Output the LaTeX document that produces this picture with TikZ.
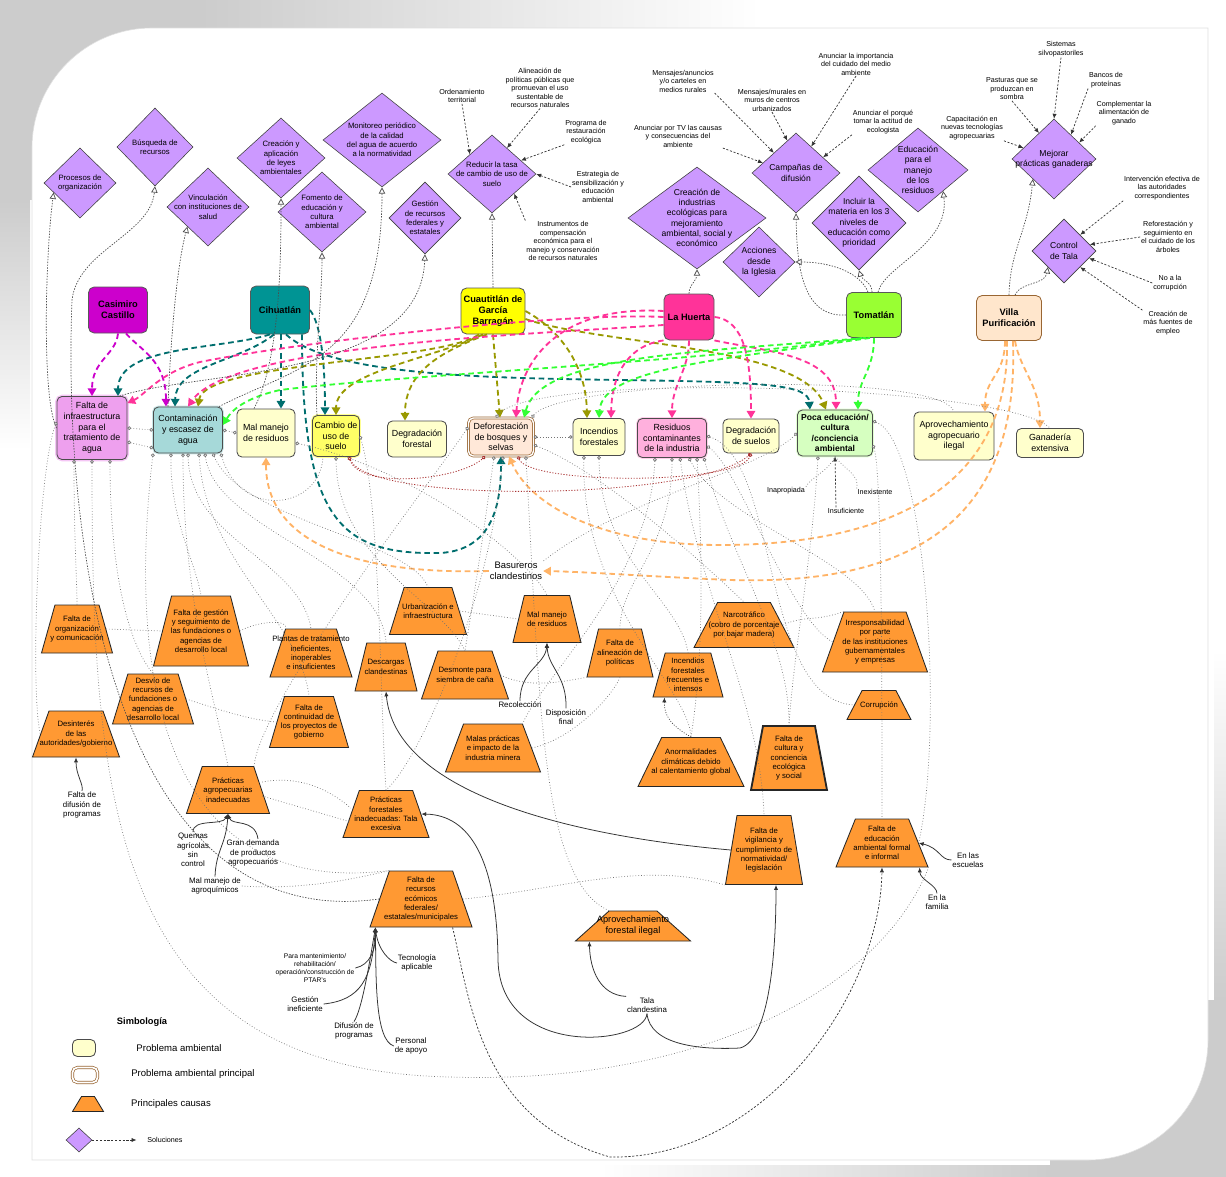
\documentclass[tikz,border=0pt]{standalone}
\usepackage{fontspec}
\setmainfont{Liberation Sans}
\usetikzlibrary{positioning,calc,shapes.geometric,arrows.meta}

\definecolor{lila}{HTML}{CC99FF}
\definecolor{naranja}{HTML}{FF9933}
\definecolor{crema}{HTML}{FFFFCC}
\definecolor{colCasimiro}{HTML}{CC00CC}
\definecolor{colCihua}{HTML}{009494}
\definecolor{colCihuaF}{HTML}{006E6E}
\definecolor{colCuauti}{HTML}{FFFF00}
\definecolor{colCuautiF}{HTML}{999900}
\definecolor{colHuerta}{HTML}{FF3399}
\definecolor{colToma}{HTML}{99FF33}
\definecolor{colTomaF}{HTML}{33FF33}
\definecolor{colVilla}{HTML}{FFE6CC}
\definecolor{colVillaB}{HTML}{996633}
\definecolor{colVillaF}{HTML}{FFB366}
\definecolor{colInfra}{HTML}{EEA0EE}
\definecolor{colContam}{HTML}{A6D9D9}
\definecolor{colCambio}{HTML}{FFFF66}
\definecolor{colDefor}{HTML}{FFE8D8}
\definecolor{colIndus}{HTML}{FFB0DD}
\definecolor{colEduca}{HTML}{D6FFC0}
\definecolor{rojizo}{HTML}{AA3333}

\tikzset{
  sol/.style={diamond, draw=black!75, fill=lila, inner sep=0pt},
  soltxt/.style={align=center, font=\fontsize{5.5}{6.6}\selectfont, inner sep=0pt},
  solbig/.style={align=center, font=\fontsize{6.1}{7.3}\selectfont, inner sep=0pt},
  mun/.style={rectangle, rounded corners=4pt, draw=black!65, line width=0.6pt, align=center,
    font=\bfseries\fontsize{6.6}{7.8}\selectfont, inner sep=1pt},
  prob/.style={rectangle, rounded corners=3.5pt, draw=black!70, line width=0.6pt, fill=crema,
    align=center, font=\fontsize{6.3}{7.6}\selectfont, inner sep=0.5pt},
  causa/.style={trapezium, trapezium stretches=true, trapezium angle=73, draw=black!85,
    line width=0.6pt, fill=naranja, inner sep=1pt},
  causatxt/.style={align=center, font=\fontsize{5.5}{6.6}\selectfont, inner sep=0pt},
  lbl/.style={align=center, font=\fontsize{5.1}{6}\selectfont, inner sep=0.5pt},
  lblmed/.style={align=center, font=\fontsize{5.6}{6.7}\selectfont, inner sep=0.5pt},
  muni/.style={dash pattern=on 4pt off 2.6pt, line width=1.3pt, -{Triangle[length=5.5pt, width=6pt]}},
  propuesta/.style={black!70, line width=0.5pt, dash pattern=on 1pt off 1pt,
    -{Triangle[open, fill=white, length=4.5pt, width=4.5pt]}},
  idea/.style={black!80, line width=0.5pt, dash pattern=on 1.5pt off 1.2pt, -{Latex[length=3.5pt, width=3pt]}},
  causal/.style={black!55, line width=0.5pt, dash pattern=on 0.5pt off 1.5pt,
    {Circle[fill=white, length=2.6pt, width=2.6pt]}-},
  par/.style={black!55, line width=0.5pt, dash pattern=on 0.5pt off 1.5pt,
    {Circle[fill=white, length=2.6pt, width=2.6pt]}-{Circle[fill=white, length=2.6pt, width=2.6pt]}},
  enlace/.style={black!55, line width=0.5pt, dash pattern=on 0.5pt off 1.5pt},
  rojo/.style={rojizo, line width=0.6pt, dash pattern=on 0.8pt off 1.2pt,
    {Circle[fill=white, length=2.6pt, width=2.6pt]}-{Circle[fill=white, length=2.6pt, width=2.6pt]}},
  nexo/.style={black!80, line width=0.55pt, -{Latex[length=3.5pt, width=3pt]}},
}

\begin{document}
\begin{tikzpicture}[x=0.025cm, y=-0.025cm]
  % one unit is one pixel of the sketch
  \def\px{0.025cm}
  \useasboundingbox (0,0) rectangle (1226,1177);

  % page and its shadow
  \fill[gray!40] (0,0) rectangle (200,200);
  \shade[left color=gray!40, right color=white] (200,0) rectangle (760,28);
  \shade[top color=gray!40, bottom color=white] (0,200) rectangle (30,450);
  \fill[gray!40] (1050,1000) rectangle (1226,1177);
  \shade[left color=white, right color=gray!40] (600,1165) rectangle (1050,1177);
  \shade[top color=white, bottom color=gray!40] (1214,650) rectangle (1226,1000);
  \filldraw[fill=white, draw=gray!25] (32,1160) [rounded corners=3cm] -- (32,28) -- (600,28)
    [sharp corners] -- (1208,28) -- (1208,600) [rounded corners=3cm] -- (1208,1160) -- (600,1160)
    [sharp corners] -- cycle;

  % solutions
  \node[sol, minimum width=72*\px, minimum height=70*\px, label={[soltxt]center:{Procesos de\\organización}}] (procesos) at (80,183) {};
  \node[sol, minimum width=76*\px, minimum height=78*\px, label={[soltxt]center:{Búsqueda de\\recursos}}] (busqueda) at (155,147) {};
  \node[sol, minimum width=82*\px, minimum height=78*\px, label={[soltxt]center:{Vinculación\\con instituciones de\\salud}}] (vinculacion) at (208,207) {};
  \node[sol, minimum width=88*\px, minimum height=80*\px, label={[soltxt]center:{Creación y\\aplicación\\de leyes\\ambientales}}] (leyes) at (281,158) {};
  \node[sol, minimum width=88*\px, minimum height=80*\px, label={[soltxt]center:{Fomento de\\educación y\\cultura\\ambiental}}] (fomento) at (322,212) {};
  \node[sol, minimum width=118*\px, minimum height=94*\px, label={[soltxt]center:{Monitoreo periódico\\de la calidad\\del agua de acuerdo\\a la normatividad}}] (monitoreo) at (382,140) {};
  \node[sol, minimum width=72*\px, minimum height=72*\px, label={[soltxt]center:{Gestión\\de recursos\\federales y\\estatales}}] (gestion) at (425,218) {};
  \node[sol, minimum width=88*\px, minimum height=78*\px, label={[soltxt]center:{Reducir la tasa\\de cambio de uso de\\suelo}}] (reducir) at (492,174) {};
  \node[sol, minimum width=138*\px, minimum height=102*\px, label={[solbig]center:{Creación de\\industrias\\ecológicas para\\mejoramiento\\ambiental, social y\\económico}}] (industrias) at (697,218) {};
  \node[sol, minimum width=72*\px, minimum height=70*\px, label={[solbig]center:{Acciones\\desde\\la Iglesia}}] (iglesia) at (759,262) {};
  \node[sol, minimum width=88*\px, minimum height=80*\px, label={[solbig]center:{Campañas de\\difusión}}] (campanas) at (796,173) {};
  \node[sol, minimum width=100*\px, minimum height=84*\px, label={[solbig]center:{Educación\\para el\\manejo\\de los\\residuos}}] (edures) at (918,170) {};
  \node[sol, minimum width=94*\px, minimum height=94*\px, label={[solbig]center:{Incluir la\\materia en los 3\\niveles de\\educación como\\prioridad}}] (incluir) at (859,223) {};
  \node[sol, minimum width=84*\px, minimum height=80*\px, label={[solbig]center:{Mejorar\\prácticas ganaderas}}] (mejorar) at (1054,159) {};
  \node[sol, minimum width=64*\px, minimum height=64*\px, label={[solbig]center:{Control\\de Tala}}] (control) at (1064,251) {};

  % municipalities
  \node[mun, fill=colCasimiro, minimum width=59*\px, minimum height=46*\px] (casimiro) at (118,310) {Casimiro\\Castillo};
  \node[mun, fill=colCihua, minimum width=59*\px, minimum height=48*\px] (cihuatlan) at (280,310) {Cihuatlán};
  \node[mun, fill=colCuauti, minimum width=64*\px, minimum height=46*\px] (cuautitlan) at (493,311) {Cuautitlán de\\García\\Barragán};
  \node[mun, fill=colHuerta, minimum width=50*\px, minimum height=46*\px] (huerta) at (689,317) {La Huerta};
  \node[mun, fill=colToma, minimum width=55*\px, minimum height=45*\px] (tomatlan) at (874,315) {Tomatlán};
  \node[mun, fill=colVilla, draw=colVillaB, minimum width=65*\px, minimum height=45*\px] (villa) at (1009,318) {Villa\\Purificación};

  % environmental problems
  \node[prob, fill=colInfra, preaction={draw=colInfra!60, line width=2.5pt}, minimum width=70*\px, minimum height=63*\px] (infra) at (92,428) {Falta de\\infraestructura\\para el\\tratamiento de\\agua};
  \node[prob, fill=colContam, preaction={draw=colContam!60, line width=2pt}, minimum width=69*\px, minimum height=46*\px] (contam) at (188,430) {Contaminación\\y escasez de\\agua};
  \node[prob, minimum width=58*\px, minimum height=48*\px] (malres) at (266,433) {Mal manejo\\de residuos};
  \node[prob, fill=colCambio, preaction={draw=colCambio!70, line width=2pt}, minimum width=47*\px, minimum height=41*\px] (cambio) at (336,436) {Cambio de\\uso de\\suelo};
  \node[prob, minimum width=59*\px, minimum height=36*\px] (degfor) at (417,439) {Degradación\\forestal};
  \node[prob, fill=colDefor, draw=colVillaB, double=white, double distance=1pt, line width=0.5pt, minimum width=65*\px, minimum height=38*\px] (defor) at (501,437) {Deforestación\\de bosques y\\selvas};
  \node[prob, minimum width=52*\px, minimum height=37*\px] (incendios) at (599,437) {Incendios\\forestales};
  \node[prob, fill=colIndus, preaction={draw=colIndus!60, line width=2pt}, minimum width=69*\px, minimum height=39*\px] (industria) at (672,438) {Residuos\\contaminantes\\de la industria};
  \node[prob, minimum width=56*\px, minimum height=34*\px] (degsue) at (751,436) {Degradación\\de suelos};
  \node[prob, fill=colEduca, preaction={draw=colEduca!70, line width=2pt}, font=\bfseries\fontsize{6.1}{7.4}\selectfont, minimum width=75*\px, minimum height=46*\px] (pocaedu) at (835,433) {Poca educación/\\cultura\\/conciencia\\ambiental};
  \node[prob, minimum width=80*\px, minimum height=48*\px] (agropil) at (954,436) {Aprovechamiento\\agropecuario\\ilegal};
  \node[prob, minimum width=67*\px, minimum height=29*\px] (ganaderia) at (1050,443) {Ganadería\\extensiva};

  % main causes
  \node[causa, minimum width=71*\px, minimum height=48*\px, label={[causatxt]center:{Falta de\\organización\\y comunicación}}] (organiz) at (77,629) {};
  \node[causa, minimum width=95*\px, minimum height=70*\px, label={[causatxt]center:{Falta de gestión\\y seguimiento de\\las fundaciones o\\agencias de\\desarrollo local}}] (gestfund) at (201,631) {};
  \node[causa, minimum width=82*\px, minimum height=48*\px, label={[causatxt]center:{Plantas de tratamiento\\ineficientes,\\inoperables\\e insuficientes}}] (plantas) at (311,653) {};
  \node[causa, minimum width=81*\px, minimum height=50*\px, label={[causatxt]center:{Desvío de\\recursos de\\fundaciones o\\agencias de\\desarrollo local}}] (desvio) at (153,699) {};
  \node[causa, minimum width=87*\px, minimum height=46*\px, label={[causatxt]center:{Desinterés\\de las\\autoridades/gobierno}}] (desinteres) at (76,734) {};
  \node[causa, minimum width=79*\px, minimum height=51*\px, label={[causatxt]center:{Falta de\\continuidad de\\los proyectos de\\gobierno}}] (continuidad) at (309,722) {};
  \node[causa, minimum width=62*\px, minimum height=48*\px, label={[causatxt]center:{Descargas\\clandestinas}}] (descargas) at (386,667) {};
  \node[causa, minimum width=83*\px, minimum height=47*\px, label={[causatxt]center:{Prácticas\\agropecuarias\\inadecuadas}}] (practagro) at (228,790) {};
  \node[causa, minimum width=86*\px, minimum height=47*\px, label={[causatxt]center:{Prácticas\\forestales\\inadecuadas: Tala\\excesiva}}] (practfor) at (386,814) {};
  \node[causa, minimum width=77*\px, minimum height=47*\px, label={[causatxt]center:{Urbanización e\\infraestructura}}] (urbaniz) at (428,611) {};
  \node[causa, minimum width=68*\px, minimum height=47*\px, trapezium angle=76, label={[causatxt]center:{Mal manejo\\de residuos}}] (manres) at (547,619) {};
  \node[causa, minimum width=87*\px, minimum height=48*\px, label={[causatxt]center:{Desmonte para\\siembra de caña}}] (desmonte) at (465,675) {};
  \node[causa, minimum width=66*\px, minimum height=48*\px, trapezium angle=75, label={[causatxt]center:{Falta de\\alineación de\\políticas}}] (alineacion) at (620,653) {};
  \node[causa, minimum width=100*\px, minimum height=45*\px, trapezium angle=66, label={[causatxt]center:{Narcotráfico\\(cobro de porcentaje\\por bajar madera)}}] (narco) at (744,625) {};
  \node[causa, minimum width=70*\px, minimum height=44*\px, trapezium angle=75, label={[causatxt]center:{Incendios\\forestales\\frecuentes e\\intensos}}] (incfrec) at (688,675) {};
  \node[causa, minimum width=95*\px, minimum height=48*\px, label={[causatxt]center:{Malas prácticas\\e impacto de la\\industria minera}}] (mineria) at (493,748) {};
  \node[causa, minimum width=106*\px, minimum height=49*\px, trapezium angle=68, label={[causatxt]center:{Anormalidades\\climáticas debido\\al calentamiento global}}] (clima) at (691,762) {};
  \node[causa, line width=1.3pt, minimum width=76*\px, minimum height=64*\px, trapezium angle=77, label={[causatxt]center:{Falta de\\cultura y\\conciencia\\ecológica\\y social}}] (cultura) at (789,758) {};
  \node[causa, minimum width=77*\px, minimum height=69*\px, trapezium angle=78, label={[causatxt]center:{Falta de\\vigilancia y\\cumplimiento de\\normatividad/\\legislación}}] (vigilancia) at (764,850) {};
  \node[causa, minimum width=105*\px, minimum height=60*\px, trapezium angle=71, label={[causatxt]center:{Irresponsabilidad\\por parte\\de las instituciones\\gubernamentales\\y empresas}}] (irresp) at (875,642) {};
  \node[causa, minimum width=64*\px, minimum height=29*\px, trapezium angle=66, label={[causatxt]center:{Corrupción}}] (corrupcion) at (879,705) {};
  \node[causa, minimum width=92*\px, minimum height=48*\px, trapezium angle=70, label={[causatxt]center:{Falta de\\educación\\ambiental formal\\e informal}}] (edformal) at (882,843) {};
  \node[causa, minimum width=102*\px, minimum height=56*\px, label={[causatxt]center:{Falta de\\recursos\\ecómicos\\federales/\\estatales/municipales}}] (recursos) at (421,899) {};
  \node[causa, minimum width=115*\px, minimum height=30*\px, trapezium angle=55, label={[align=center, font=\fontsize{6.6}{7.8}\selectfont]center:{Aprovechamiento\\forestal ilegal}}] (aprovfor) at (633,926) {};

  % free texts
  \node[lbl] (ordenam) at (462,96) {Ordenamiento\\territorial};
  \node[lbl] (alineac) at (540,88) {Alineación de\\políticas públicas que\\promuevan el uso\\sustentable de\\recursos naturales};
  \node[lbl] (programa) at (586,132) {Programa de\\restauración\\ecológica};
  \node[lbl] (estrateg) at (598,187) {Estrategia de\\sensibilización y\\educación\\ambiental};
  \node[lbl] (instrum) at (563,241) {Instrumentos de\\compensación\\económica para el\\manejo y conservación\\de recursos naturales};
  \node[lbl] (menrur) at (683,81) {Mensajes/anuncios\\y/o carteles en\\medios rurales};
  \node[lbl] (menurb) at (772,100) {Mensajes/murales en\\muros de centros\\urbanizados};
  \node[lbl] (anuntv) at (678,136) {Anunciar por TV las causas\\y consecuencias del\\ambiente};
  \node[lbl] (anunimp) at (856,64) {Anunciar la importancia\\del cuidado del medio\\ambiente};
  \node[lbl] (anunpor) at (883,122) {Anunciar el porqué\\tomar la actitud de\\ecologista};
  \node[lbl] (capacit) at (972,128) {Capacitación en\\nuevas tecnologías\\agropecuarias};
  \node[lbl] (pasturas) at (1012,89) {Pasturas que se\\produzcan en\\sombra};
  \node[lbl] (sistemas) at (1061,49) {Sistemas\\silvopastoriles};
  \node[lbl] (bancos) at (1106,80) {Bancos de\\proteínas};
  \node[lbl] (complem) at (1124,113) {Complementar la\\alimentación de\\ganado};
  \node[lbl] (interv) at (1162,188) {Intervención efectiva de\\las autoridades\\correspondientes};
  \node[lbl] (reforest) at (1168,237) {Reforestación y\\seguimiento en\\el cuidado de los\\árboles};
  \node[lbl] (nocorr) at (1170,283) {No a la\\corrupción};
  \node[lbl] (empleo) at (1168,323) {Creación de\\más fuentes de\\empleo};
  \node[lbl] (inapropiada) at (786,491) {Inapropiada};
  \node[lbl] (insuficiente) at (846,511) {Insuficiente};
  \node[lbl] (inexistente) at (875,492) {Inexistente};
  \node[align=center, font=\fontsize{6.7}{7.9}\selectfont, inner sep=0.5pt] (basureros) at (516,571) {Basureros\\clandestinos};
  \node[lblmed] (recoleccion) at (520,705) {Recolección};
  \node[lblmed] (disposicion) at (566,717) {Disposición\\final};
  \node[lblmed] (difusion) at (82,805) {Falta de\\difusión de\\programas};
  \node[lblmed] (quemas) at (193,850) {Quemas\\agrícolas\\sin\\control};
  \node[lblmed] (demanda) at (253,853) {Gran demanda\\de productos\\agropecuarios};
  \node[lblmed] (agroquim) at (215,886) {Mal manejo de\\agroquímicos};
  \node[align=center, font=\fontsize{4.8}{5.7}\selectfont, inner sep=0.5pt] (mantenim) at (315,968) {Para mantenimiento/\\rehabilitación/\\operación/construcción de\\PTAR's};
  \node[lblmed] (tecnologia) at (417,963) {Tecnología\\aplicable};
  \node[lblmed] (gestionef) at (305,1004) {Gestión\\ineficiente};
  \node[lblmed] (difprog) at (354,1031) {Difusión de\\programas};
  \node[lblmed] (personal) at (411,1046) {Personal\\de apoyo};
  \node[lblmed] (talacl) at (647,1005) {Tala\\clandestina};
  \node[lblmed] (escuelas) at (968,860) {En las\\escuelas};
  \node[lblmed] (familia) at (937,902) {En la\\familia};

  % municipality -> problem
  \draw[muni, colCasimiro] (casimiro.south) .. controls (116,355) and (92,360) .. (infra.north);
  \draw[muni, colCasimiro] ($(casimiro.south)+(8,0)$) .. controls (140,350) and (166,360) .. ($(contam.north)+(-22,0)$);
  \draw[muni, colCihuaF] ($(cihuatlan.south)+(-10,0)$) .. controls (220,350) and (118,345) .. ($(infra.north)+(26,0)$);
  \draw[muni, colCihuaF] ($(cihuatlan.south)+(-6,0)$) .. controls (240,362) and (176,365) .. ($(contam.north)+(-13,0)$);
  \draw[muni, colCihuaF] ($(cihuatlan.south)+(1,0)$) -- ($(malres.north)+(15,0)$);
  \draw[muni, colCihuaF] (cihuatlan.east) .. controls (322,325) and (325,370) .. ($(cambio.north)+(-11,0)$);
  \draw[muni, colCihuaF] ($(cihuatlan.south)+(22,0)$) .. controls (302,520) and (340,555) .. (440,553) .. controls (495,550) and (501,500) .. (defor.south);
  \draw[muni, colCihuaF] ($(cihuatlan.south)+(6,0)$) .. controls (330,375) and (480,378) .. (620,380) .. controls (770,382) and (808,385) .. ($(pocaedu.north)+(-25,0)$);
  \draw[muni, colCuautiF] ($(cuautitlan.south)+(-14,0)$) .. controls (440,362) and (205,362) .. ($(contam.north)+(10,0)$);
  \draw[muni, colCuautiF] ($(cuautitlan.south)+(-10,0)$) .. controls (430,360) and (336,372) .. (cambio.north);
  \draw[muni, colCuautiF] ($(cuautitlan.south)+(-6,0)$) .. controls (440,352) and (405,372) .. ($(degfor.north)+(-12,0)$);
  \draw[muni, colCuautiF] (cuautitlan.south) -- ($(defor.north)+(-1,0)$);
  \draw[muni, colCuautiF] (cuautitlan.east) .. controls (560,330) and (586,365) .. ($(incendios.north)+(-12,0)$);
  \draw[muni, colCuautiF] ($(cuautitlan.east)+(0,8)$) .. controls (600,345) and (800,345) .. ($(pocaedu.north)+(-9,0)$);
  \draw[muni, colHuerta] (huerta.west) .. controls (560,312) and (300,342) .. (200,362) .. controls (160,372) and (145,395) .. ($(infra.north east)+(0,7)$);
  \draw[muni, colHuerta] ($(huerta.west)+(0,8)$) .. controls (520,335) and (230,345) .. (contam.north);
  \draw[muni, colHuerta] ($(huerta.west)+(0,-6)$) .. controls (560,305) and (520,360) .. ($(defor.north)+(15,0)$);
  \draw[muni, colHuerta] (huerta.south west) .. controls (630,345) and (612,372) .. ($(incendios.north)+(12,0)$);
  \draw[muni, colHuerta] (huerta.south) .. controls (689,370) and (672,385) .. (industria.north);
  \draw[muni, colHuerta] (huerta.east) .. controls (745,320) and (751,360) .. (degsue.north);
  \draw[muni, colHuerta] (huerta.south east) .. controls (770,352) and (836,355) .. ($(pocaedu.north)+(1,0)$);
  \draw[muni, colTomaF] (tomatlan.south) .. controls (874,370) and (858,380) .. ($(pocaedu.north)+(23,0)$);
  \draw[muni, colTomaF] ($(tomatlan.south)+(-12,0)$) .. controls (700,362) and (400,375) .. (280,390) .. controls (245,398) and (232,410) .. ($(contam.east)+(0,-5)$);
  \draw[muni, colTomaF] ($(tomatlan.south)+(-8,0)$) .. controls (700,352) and (540,355) .. ($(defor.north)+(23,0)$);
  \draw[muni, colTomaF] ($(tomatlan.south)+(-4,0)$) .. controls (720,360) and (602,368) .. (incendios.north);
  \draw[muni, colVillaF] ($(villa.south)+(-4,0)$) .. controls (1005,375) and (985,378) .. ($(agropil.north)+(31,0)$);
  \draw[muni, colVillaF] ($(villa.south)+(6,0)$) .. controls (1020,370) and (1040,385) .. ($(ganaderia.north)+(-10,0)$);
  \draw[muni, colVillaF] ($(villa.south)+(-2,0)$) .. controls (1010,480) and (900,545) .. (720,545) .. controls (600,545) and (530,505) .. ($(defor.south)+(8,0)$);
  \draw[muni, colVillaF] ($(villa.south)+(4,0)$) .. controls (1020,530) and (900,585) .. (730,580) .. controls (640,576) and (590,572) .. (basureros.east);
  \draw[muni, colVillaF] (basureros.west) .. controls (350,575) and (266,540) .. (malres.south);

  % towards the solutions
  \draw[propuesta] (cuautitlan.north) -- (reducir.south);
  \draw[propuesta] (huerta.north) .. controls (689,285) and (697,280) .. (industrias.south);
  \draw[propuesta] ($(tomatlan.north)+(-2,0)$) .. controls (872,282) and (862,280) .. (incluir.south);
  \draw[propuesta] ($(tomatlan.north)+(4,0)$) .. controls (885,265) and (950,245) .. (edures.south east);
  \draw[propuesta] (tomatlan.west) .. controls (800,318) and (797,260) .. (campanas.south);
  \draw[propuesta] ($(tomatlan.north)+(-6,0)$) .. controls (860,272) and (830,262) .. (iglesia.east);
  \draw[propuesta] (villa.north) .. controls (1010,250) and (1028,230) .. (mejorar.south west);
  \draw[propuesta] ($(villa.north)+(6,0)$) .. controls (1020,282) and (1045,285) .. (control.south west);
  \draw[propuesta] (recursos.west) .. controls (120,935) and (62,560) .. (72,300) .. controls (78,250) and (150,235) .. (busqueda.south);
  \draw[propuesta] ($(contam.north)+(-20,0)$) .. controls (170,350) and (176,270) .. (vinculacion.south west);
  \draw[propuesta] ($(malres.north)+(-12,0)$) .. controls (280,360) and (281,260) .. (leyes.south);
  \draw[propuesta] ($(cambio.north)+(-19,0)$) .. controls (314,360) and (322,300) .. (fomento.south);
  \draw[propuesta] ($(contam.north east)+(-4,0)$) .. controls (300,365) and (382,360) .. (monitoreo.south);
  \draw[propuesta] ($(infra.north east)+(-8,0)$) .. controls (200,370) and (420,380) .. (gestion.south);
  \draw[propuesta] (infra.west) .. controls (42,400) and (45,260) .. (procesos.200);

  % proposals written round the solutions
  \draw[idea] (ordenam.south) -- (reducir.north west);
  \draw[idea] (alineac.south) -- (reducir.60);
  \draw[idea] (programa.south west) -- (reducir.25);
  \draw[idea] (estrateg.west) -- (reducir.east);
  \draw[idea] (instrum.north west) -- (reducir.south east);
  \draw[idea] (menrur.south east) -- (campanas.north west);
  \draw[idea] (menurb.south) -- (campanas.105);
  \draw[idea] (anunimp.south) -- (campanas.60);
  \draw[idea] (anuntv.south east) -- (campanas.163);
  \draw[idea] (anunpor.south west) -- (campanas.30);
  \draw[idea] (capacit.south east) -- (mejorar.160);
  \draw[idea] (pasturas.south) -- (mejorar.120);
  \draw[idea] (sistemas.south) -- (mejorar.north);
  \draw[idea] (bancos.south west) -- (mejorar.55);
  \draw[idea] (complem.south west) -- (mejorar.33);
  \draw[idea] (interv.south west) -- (control.north east);
  \draw[idea] (reforest.west) -- (control.14);
  \draw[idea] (nocorr.west) -- (control.-16);
  \draw[idea] (empleo.north west) -- (control.south east);
  \draw[idea] ($(insuficiente.north)+(-10,0)$) -- (pocaedu.south);
  \draw[enlace] (inapropiada.north east) .. controls (810,478) and (830,470) .. (pocaedu.south);
  \draw[enlace] (inexistente.north west) .. controls (860,475) and (845,470) .. (pocaedu.south);

  % problem -> cause links
  \draw[par] (infra.east) -- (contam.west);
  \draw[par] ($(infra.east)+(0,14)$) -- ($(contam.west)+(0,18)$);
  \draw[par] (contam.east) -- (malres.west);
  \draw[par] (defor.east) -- (incendios.west);
  \draw[causal] ($(infra.south)+(-18,0)$) .. controls (74,540) and (77,580) .. (organiz.north);
  \draw[causal] ($(infra.south)+(18,0)$) .. controls (110,560) and (125,640) .. (desvio.north);
  \draw[causal] ($(infra.west)+(0,-6)$) .. controls (38,470) and (30,690) .. (desinteres.west);
  \draw[causal] (infra.south) .. controls (92,800) and (110,1070) .. (450,1077) .. controls (700,1085) and (880,990) .. (edformal.bottom right corner);
  \draw[causal] ($(contam.south)+(-17,0)$) .. controls (170,520) and (195,560) .. (gestfund.north);
  \draw[causal] ($(contam.south)+(-5,0)$) .. controls (183,600) and (215,700) .. (practagro.north);
  \draw[causal] (contam.south) .. controls (190,540) and (300,560) .. (plantas.north);
  \draw[causal] ($(contam.south)+(11,0)$) .. controls (205,560) and (300,620) .. (continuidad.north);
  \draw[causal] ($(contam.south)+(17,0)$) .. controls (215,530) and (380,560) .. (descargas.north);
  \draw[causal] ($(contam.south)+(25,0)$) .. controls (240,520) and (410,540) .. (urbaniz.north);
  \draw[causal] (contam.south west) .. controls (130,650) and (150,900) .. (recursos.top left corner);
  \draw[causal] ($(contam.south east)+(-2,0)$) .. controls (240,520) and (320,510) .. ($(cambio.south)+(-13,0)$);
  \draw[causal] ($(malres.east)+(0,10)$) .. controls (420,470) and (530,560) .. (manres.north);
  \draw[causal] (cambio.south) .. controls (337,560) and (440,600) .. (desmonte.north);
  \draw[causal] (cambio.east) .. controls (380,500) and (380,700) .. (practfor.north);
  \draw[rojo] ($(cambio.south)+(13,0)$) .. controls (360,490) and (460,480) .. ($(defor.south)+(-16,0)$);
  \draw[rojo] ($(cambio.south)+(13,0)$) .. controls (370,505) and (700,500) .. (degsue.south);
  \draw[rojo] ($(defor.south)+(17,0)$) .. controls (530,485) and (740,485) .. (degsue.south);
  \draw[causal] ($(defor.west)+(0,-10)$) .. controls (440,470) and (260,700) .. (practagro.top right corner);
  \draw[causal] ($(defor.south)+(-7,0)$) .. controls (480,560) and (470,620) .. (desmonte.north);
  \draw[causal] ($(defor.south)+(2,0)$) .. controls (490,600) and (420,760) .. (practfor.north);
  \draw[causal] ($(defor.south east)+(-8,0)$) .. controls (540,700) and (540,880) .. (aprovfor.top left corner);
  \draw[causal] ($(defor.east)+(0,8)$) .. controls (600,470) and (700,560) .. (narco.north);
  \draw[causal] ($(defor.north east)+(-2,0)$) .. controls (560,380) and (940,370) .. (agropil.north);
  \draw[causal] ($(defor.north)+(-5,0)$) .. controls (530,370) and (1010,385) .. (ganaderia.north);
  \draw[causal] (incendios.south) .. controls (600,560) and (680,600) .. (incfrec.north);
  \draw[causal] ($(incendios.south)+(-15,0)$) .. controls (580,600) and (690,690) .. (clima.north);
  \draw[causal] ($(industria.south)+(-17,0)$) .. controls (650,580) and (540,680) .. (mineria.top right corner);
  \draw[causal] (industria.south) .. controls (672,550) and (620,580) .. (alineacion.north);
  \draw[causal] ($(industria.south)+(8,0)$) .. controls (700,600) and (760,700) .. (vigilancia.north);
  \draw[causal] ($(industria.south)+(17,0)$) .. controls (720,520) and (860,560) .. (irresp.north);
  \draw[causal] ($(industria.south)+(25,0)$) .. controls (705,600) and (700,680) .. (clima.north);
  \draw[causal] ($(industria.south)+(32,0)$) .. controls (730,560) and (790,640) .. (cultura.north);
  \draw[causal] ($(industria.east)+(0,-2)$) .. controls (780,460) and (760,700) .. (corrupcion.west);
  \draw[causal] ($(industria.east)+(0,8)$) .. controls (740,470) and (790,620) .. (irresp.west);
  \draw[causal] ($(pocaedu.south)+(-17,0)$) .. controls (812,560) and (795,640) .. (cultura.north);
  \draw[causal] ($(pocaedu.east)+(0,12)$) .. controls (882,470) and (882,700) .. (edformal.north);
  \draw[causal] ($(pocaedu.east)+(0,-12)$) .. controls (925,440) and (945,720) .. (edformal.east);
  \draw[causal] (pocaedu.west) .. controls (760,470) and (620,500) .. (basureros.north east);

  % cause <-> cause
  \draw[enlace] (organiz.east) -- (gestfund.west);
  \draw[enlace] (gestfund.east) .. controls (260,620) and (290,620) .. (plantas.top left corner);
  \draw[enlace] (desvio.east) .. controls (220,710) and (250,720) .. (continuidad.west);
  \draw[enlace] ($(practagro.east)+(0,-8)$) .. controls (300,775) and (330,790) .. ($(practfor.west)+(0,-6)$);
  \draw[enlace] ($(practagro.east)+(0,6)$) -- ($(practfor.west)+(0,8)$);
  \draw[enlace] (urbaniz.east) -- (manres.west);
  \draw[enlace] (desmonte.east) .. controls (530,690) and (570,680) .. (alineacion.bottom left corner);
  \draw[enlace] (mineria.east) .. controls (570,740) and (610,700) .. (alineacion.south);
  \draw[enlace] (narco.east) .. controls (805,615) and (815,622) .. (irresp.top left corner);
  \draw[enlace] (recursos.east) .. controls (560,890) and (640,860) .. (vigilancia.bottom left corner);
  \draw[enlace] (agroquim.east) .. controls (300,890) and (350,880) .. (recursos.top left corner);
  \draw[idea] ($(recursos.bottom right corner)+(-20,0)$) .. controls (470,1000) and (480,1120) .. (610,1157) .. controls (760,1160) and (880,1000) .. (edformal.south);
  \draw[idea, dash pattern=on 0.6pt off 1.2pt] (clima.north) .. controls (670,725) and (664,715) .. ($(incfrec.bottom left corner)+(12,0)$);

  % short explanations
  \draw[nexo] (difusion.north) .. controls (84,785) and (76,775) .. (desinteres.south);
  \draw[nexo] (quemas.north) .. controls (193,818) and (222,826) .. (practagro.south);
  \draw[nexo] ($(demanda.north)+(5,0)$) .. controls (255,818) and (232,826) .. (practagro.south);
  \draw[nexo] (agroquim.north) .. controls (216,850) and (226,845) .. (practagro.south);
  \draw[nexo] (recoleccion.north) .. controls (520,670) and (545,665) .. (manres.south);
  \draw[nexo] (disposicion.north) .. controls (567,675) and (548,668) .. (manres.south);
  \draw[nexo] (mantenim.east) .. controls (370,965) and (376,950) .. ($(recursos.bottom left corner)+(6,0)$);
  \draw[nexo] (gestionef.east) .. controls (360,1000) and (372,980) .. ($(recursos.bottom left corner)+(6,0)$);
  \draw[nexo] (difprog.north) .. controls (362,1010) and (370,960) .. ($(recursos.bottom left corner)+(6,0)$);
  \draw[nexo] (personal.west) .. controls (375,1040) and (376,980) .. ($(recursos.bottom left corner)+(6,0)$);
  \draw[nexo] (tecnologia.west) .. controls (390,962) and (378,950) .. ($(recursos.bottom left corner)+(6,0)$);
  \draw[nexo] (talacl.north west) .. controls (600,995) and (590,970) .. ($(aprovfor.bottom left corner)+(15,0)$);
  \draw[nexo] (talacl.south) .. controls (650,1045) and (700,1050) .. (740,1048) .. controls (770,1040) and (776,950) .. ($(vigilancia.south)+(12,0)$);
  \draw[nexo] (talacl.south) .. controls (645,1045) and (500,1060) .. (498,960) .. controls (497,860) and (470,815) .. (practfor.east);
  \draw[nexo] (vigilancia.west) .. controls (560,835) and (395,790) .. (descargas.south);
  \draw[nexo] (escuelas.west) .. controls (940,860) and (940,848) .. (edformal.east);
  \draw[nexo] (familia.north) .. controls (937,885) and (920,880) .. ($(edformal.bottom right corner)+(-9,0)$);

  % legend
  \node[font=\bfseries\fontsize{6.6}{8}\selectfont] (simbologia) at (142,1022) {Simbología};
  \node[prob, minimum width=23*\px, minimum height=17*\px] (leyprob) at (84,1048) {};
  \node[font=\fontsize{6.8}{8}\selectfont] (leyprobtxt) at (179,1048) {Problema ambiental};
  \node[prob, fill=white, draw=colVillaB, double=white, double distance=1.2pt, line width=0.5pt, minimum width=25*\px, minimum height=15*\px] (leyppal) at (85,1075) {};
  \node[font=\fontsize{6.8}{8}\selectfont] (leyppaltxt) at (193,1074) {Problema ambiental principal};
  \node[causa, trapezium angle=55, minimum width=31*\px, minimum height=15*\px] (leycausa) at (88,1104) {};
  \node[font=\fontsize{6.8}{8}\selectfont] (leycausatxt) at (171,1104) {Principales causas};
  \node[sol, minimum width=26*\px, minimum height=24*\px] (leysol) at (79,1140) {};
  \node[lbl] (leysoltxt) at (165,1140) {Soluciones};
  \draw[idea] (leysol.east) -- ($(leysoltxt.west)+(-10,0)$);
\end{tikzpicture}
\end{document}
